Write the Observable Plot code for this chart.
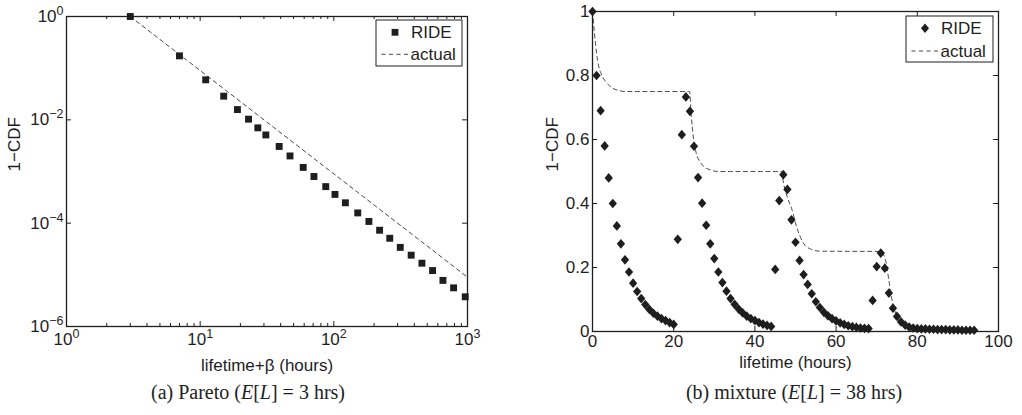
<!DOCTYPE html>
<html>
<head>
<meta charset="utf-8">
<script src="https://cdn.jsdelivr.net/npm/d3@7"></script>
<script src="https://cdn.jsdelivr.net/npm/@observablehq/plot@0.6"></script>
<style>
  html, body { margin: 0; padding: 0; background: #fff; }
  #page { position: relative; width: 1022px; height: 415px; overflow: hidden; background: #fff; }
  .panel { position: absolute; top: 0; }
  .legend { position: absolute; }
  .caption { position: absolute; font-family: "Liberation Serif", serif; font-size: 20px; color: #222; text-align: center; white-space: nowrap; }
</style>
</head>
<body>
<div id="page"></div>
<script>
// ---------- Panel (a): Pareto ----------
const paretoX = [3, 7, 11, 15, 19, 23, 27, 31, 39, 47, 59, 71, 87, 102, 122, 151, 183, 220, 262, 314, 379, 456, 548, 655, 787, 962];
const paretoRide = [1, 0.173, 0.0595, 0.0287, 0.0158, 0.0103, 0.0070, 0.0051, 0.00305, 0.0020, 0.0012, 0.00080, 0.00051, 0.00036,
  2.48e-4, 1.58e-4, 1.08e-4, 7.3e-5, 5.1e-5, 3.4e-5, 2.4e-5, 1.68e-5, 1.21e-5, 7.8e-6, 5.6e-6, 3.76e-6];
const paretoActualX = [3, 1000];
const paretoActualY = [1, 9e-6];
const paretoXTicks = [1, 10, 100, 1000];
const paretoXTickLabels = ["10^0", "10^1", "10^2", "10^3"];
const paretoXMinor = [2, 3, 4, 5, 6, 7, 8, 9, 20, 30, 40, 50, 60, 70, 80, 90, 200, 300, 400, 500, 600, 700, 800, 900];
const paretoYTicks = [1e-6, 1e-4, 1e-2, 1];
const paretoYTickLabels = ["10^\u22126", "10^\u22124", "10^\u22122", "10^0"];

// ---------- Panel (b): mixture ----------
const mixtureHours = [
  0, 1, 2, 3, 4, 5, 6, 7, 8, 9, 10, 11, 12, 13, 14, 15, 16, 17, 18, 19, 20,
  21, 22, 23, 24, 25, 26, 27, 28, 29, 30, 31, 32, 33, 34, 35, 36, 37, 38, 39, 40, 41, 42, 43, 44,
  45, 46, 47, 48, 49, 50, 51, 52, 53, 54, 55, 56, 57, 58, 59, 60, 61, 62, 63, 64, 65, 66, 67, 68,
  69, 70, 71, 72, 73, 74, 75, 76, 77, 78, 79, 80, 81, 82, 83, 84, 85, 86, 87, 88, 89, 90, 91, 92, 93, 94];
const mixtureRide = [
  1.0, 0.80, 0.69, 0.58, 0.48, 0.40, 0.33, 0.274, 0.224, 0.186, 0.151, 0.125, 0.103, 0.084, 0.069, 0.057, 0.048, 0.040, 0.034, 0.028, 0.022,
  0.288, 0.615, 0.733, 0.688, 0.579, 0.481, 0.401, 0.332, 0.274, 0.228, 0.186, 0.153, 0.126, 0.103, 0.085, 0.070, 0.058, 0.048, 0.040, 0.034, 0.028, 0.023, 0.019, 0.016,
  0.194, 0.409, 0.490, 0.444, 0.349, 0.279, 0.222, 0.178, 0.147, 0.118, 0.093, 0.075, 0.060, 0.049, 0.040, 0.033, 0.027, 0.022, 0.018, 0.015, 0.013, 0.011, 0.010, 0.009,
  0.097, 0.203, 0.245, 0.198, 0.120, 0.073, 0.047, 0.030, 0.020, 0.014, 0.011, 0.009, 0.008, 0.008, 0.007, 0.007, 0.006, 0.006, 0.006, 0.005, 0.005, 0.005, 0.004, 0.004, 0.004, 0.004];
const actualHours = [0, 0.5, 1, 1.5, 2, 3, 4, 5, 6, 8, 23.9, 24.3, 24.9, 25.5, 26.5, 27.5, 29, 31,
  46.5, 47.1, 48, 49.2, 50.2, 51.2, 52.3, 53.7, 56, 71, 72.2, 73, 73.6, 74.2, 75, 76, 76.7, 78, 80, 95];
const actualSurvival = [1, 0.93, 0.87, 0.83, 0.81, 0.785, 0.77, 0.76, 0.755, 0.75, 0.75, 0.68, 0.60, 0.56, 0.53, 0.515, 0.505, 0.5,
  0.5, 0.46, 0.42, 0.378, 0.33, 0.295, 0.27, 0.258, 0.251, 0.25, 0.222, 0.16, 0.11, 0.076, 0.045, 0.022, 0.013, 0.005, 0.001, 0];
const mixXTicks = [0, 20, 40, 60, 80, 100];
const mixYTicks = [0, 0.2, 0.4, 0.6, 0.8, 1];
const mixYTickLabels = ["0", "0.2", "0.4", "0.6", "0.8", "1"];

const legendLabels = ["RIDE", "actual"];
const captions = ["(a) Pareto (<i>E</i>[<i>L</i>] = 3 hrs)", "(b) mixture (<i>E</i>[<i>L</i>] = 38 hrs)"];

const INK = "#1e1e1e";
const FONT = "Liberation Sans, Arial, sans-serif";

const diamond = {
  draw(context, size) {
    const h = Math.sqrt(size) * 0.62;
    const w = h * 0.86;
    context.moveTo(0, -h);
    context.lineTo(w, 0);
    context.lineTo(0, h);
    context.lineTo(-w, 0);
    context.closePath();
  }
};

function supLabels(svg) {
  d3.select(svg).selectAll("text").each(function () {
    const t = this.textContent;
    const m = t.match(/^10\^(.+)$/);
    if (m) {
      this.textContent = "";
      d3.select(this).append("tspan").text("10");
      d3.select(this).append("tspan").attr("dy", "-7px").attr("font-size", "12.5px").text(m[1]);
    }
  });
}

const page = document.getElementById("page");

// ----- left chart -----
{
  const W = 500, H = 390, mL = 66, mR = 33, mT = 16, mB = 64;
  const ph = H - mT - mB;
  const lineData = paretoActualX.map((x, i) => ({x, y: paretoActualY[i]}));
  const rideData = paretoX.map((x, i) => ({x, y: paretoRide[i]}));
  const chart = Plot.plot({
    width: W, height: H, marginLeft: mL, marginRight: mR, marginTop: mT, marginBottom: mB,
    x: {type: "log", domain: [1, 1000]},
    y: {type: "log", domain: [1e-6, 1]},
    style: {fontFamily: FONT, fontSize: "17px", color: INK, background: "white", overflow: "visible"},
    marks: [
      Plot.axisX({ticks: paretoXTicks, tickSize: 0, tickPadding: 6, tickFormat: d => paretoXTickLabels[paretoXTicks.indexOf(d)], label: null}),
      Plot.axisY({ticks: paretoYTicks, tickSize: 0, tickPadding: 3, tickFormat: d => paretoYTickLabels[paretoYTicks.indexOf(d)], label: null}),
      // inward ticks
      Plot.tickX(paretoXTicks, {x: d => d, insetTop: ph - 5, stroke: INK, strokeWidth: 1}),
      Plot.tickX(paretoXTicks, {x: d => d, insetBottom: ph - 5, stroke: INK, strokeWidth: 1}),
      Plot.tickX(paretoXMinor, {x: d => d, insetTop: ph - 3, stroke: INK, strokeWidth: 1}),
      Plot.tickX(paretoXMinor, {x: d => d, insetBottom: ph - 3, stroke: INK, strokeWidth: 1}),
      Plot.tickY(paretoYTicks, {y: d => d, insetRight: (W - mL - mR) - 5, stroke: INK, strokeWidth: 1}),
      Plot.tickY(paretoYTicks, {y: d => d, insetLeft: (W - mL - mR) - 5, stroke: INK, strokeWidth: 1}),
      Plot.line(lineData, {x: "x", y: "y", stroke: "#333", strokeWidth: 0.9, strokeDasharray: "4,3.5"}),
      Plot.dot(rideData, {x: "x", y: "y", symbol: "square", r: 3.9, fill: INK, stroke: "none"}),
      Plot.frame({stroke: INK, strokeWidth: 1.3}),
      Plot.text(["1\u2212CDF"], {frameAnchor: "left", rotate: -90, dx: -52, fill: INK}),
      Plot.text(["lifetime+\u03b2 (hours)"], {frameAnchor: "bottom", dy: 44, fill: INK})
    ]
  });
  supLabels(chart);
  chart.classList.add("panel");
  chart.style.left = "0px";
  page.appendChild(chart);
}

// ----- right chart -----
{
  const W = 522, H = 390, mL = 92, mR = 24, mT = 11, mB = 59;
  const ph = H - mT - mB, pw = W - mL - mR;
  const lineData = actualHours.map((x, i) => ({x, y: actualSurvival[i]}));
  const rideData = mixtureHours.map((x, i) => ({x, y: mixtureRide[i]}));
  const chart = Plot.plot({
    width: W, height: H, marginLeft: mL, marginRight: mR, marginTop: mT, marginBottom: mB,
    x: {domain: [0, 100]},
    y: {domain: [0, 1]},
    style: {fontFamily: FONT, fontSize: "17px", color: INK, background: "white", overflow: "visible"},
    marks: [
      Plot.axisX({ticks: mixXTicks, tickSize: 0, tickPadding: 3, tickFormat: d => String(d), label: null}),
      Plot.axisY({ticks: mixYTicks, tickSize: 0, tickPadding: 3, tickFormat: d => mixYTickLabels[mixYTicks.indexOf(d)], label: null}),
      Plot.tickX(mixXTicks, {x: d => d, insetTop: ph - 5, stroke: INK, strokeWidth: 1}),
      Plot.tickX(mixXTicks, {x: d => d, insetBottom: ph - 5, stroke: INK, strokeWidth: 1}),
      Plot.tickY(mixYTicks, {y: d => d, insetRight: pw - 5, stroke: INK, strokeWidth: 1}),
      Plot.tickY(mixYTicks, {y: d => d, insetLeft: pw - 5, stroke: INK, strokeWidth: 1}),
      Plot.line(lineData, {x: "x", y: "y", curve: "monotone-x", stroke: "#333", strokeWidth: 0.9, strokeDasharray: "4,3.5"}),
      Plot.dot(rideData, {x: "x", y: "y", symbol: diamond, r: 4.4, fill: INK, stroke: "none"}),
      Plot.frame({stroke: INK, strokeWidth: 1.3}),
      Plot.text(["1\u2212CDF"], {frameAnchor: "left", rotate: -90, dx: -40, fill: INK}),
      Plot.text(["lifetime (hours)"], {frameAnchor: "bottom", dy: 36, fill: INK})
    ]
  });
  chart.classList.add("panel");
  chart.style.left = "500px";
  page.appendChild(chart);
}

// ----- legends -----
function legend(left, top, w, h, symbolKind, symX, dashX0, dashX1, textX, row1Y, row2Y) {
  const svg = d3.create("svg").attr("class", "legend").attr("width", w + 2).attr("height", h + 2)
    .style("left", (left - 1) + "px").style("top", (top - 1) + "px")
    .style("font-family", FONT).style("font-size", "17px");
  svg.append("rect").attr("x", 1).attr("y", 1).attr("width", w).attr("height", h)
    .attr("fill", "white").attr("stroke", INK).attr("stroke-width", 1);
  if (symbolKind === "square") {
    svg.append("rect").attr("x", symX - 3.4).attr("y", row1Y - 3.4).attr("width", 6.8).attr("height", 6.8).attr("fill", INK);
  } else {
    svg.append("path").attr("d", `M${symX},${row1Y - 4.7}L${symX + 4},${row1Y}L${symX},${row1Y + 4.7}L${symX - 4},${row1Y}Z`).attr("fill", INK);
  }
  svg.append("line").attr("x1", dashX0).attr("x2", dashX1).attr("y1", row2Y).attr("y2", row2Y)
    .attr("stroke", "#333").attr("stroke-width", 0.9).attr("stroke-dasharray", "4,3.5");
  svg.append("text").attr("x", textX).attr("y", row1Y).attr("dy", "0.36em").attr("fill", INK).text(legendLabels[0]);
  svg.append("text").attr("x", textX - 0.5).attr("y", row2Y).attr("dy", "0.36em").attr("fill", INK).text(legendLabels[1]);
  page.appendChild(svg.node());
}
// left legend: box 376..462 x 20..66
legend(376, 20, 86, 46, "square", 20, 6.5, 34, 36, 13.3, 35.3);
// right legend: box 906..993 x 16..62
legend(906, 16, 87, 46, "diamond", 20, 6.5, 34, 36, 13.3, 36);

// ----- captions -----
function caption(html, cx, cy) {
  const d = document.createElement("div");
  d.className = "caption";
  d.innerHTML = html;
  page.appendChild(d);
  const r = d.getBoundingClientRect();
  d.style.left = (cx - r.width / 2) + "px";
  d.style.top = (cy - r.height / 2) + "px";
}
caption(captions[0], 248, 392);
caption(captions[1], 794, 392);
</script>
</body>
</html>
